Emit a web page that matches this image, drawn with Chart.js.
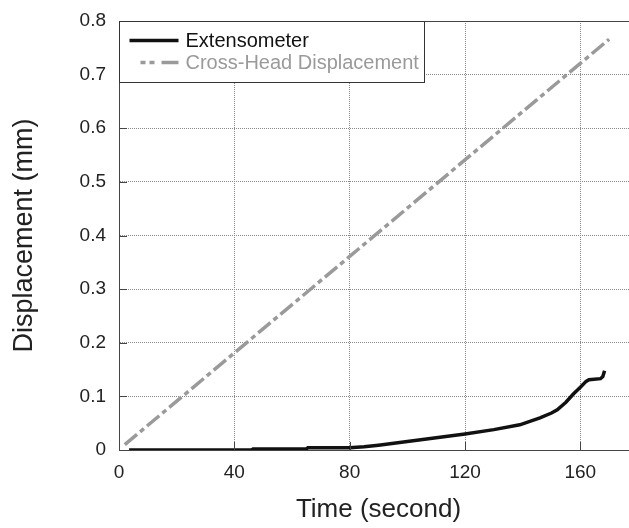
<!DOCTYPE html>
<html>
<head>
<meta charset="utf-8">
<title>Displacement vs Time</title>
<script src="https://cdn.jsdelivr.net/npm/chart.js@4"></script>
<style>
  html, body { margin: 0; padding: 0; background: #fff; overflow: hidden; }
  #wrap { width: 629px; height: 528px; overflow: hidden; }
</style>
</head>
<body>
<div id="wrap">
  <canvas id="chart" width="640" height="528"></canvas>
</div>
<script>
// Extensometer reading (mm) over time (s)
const extTime = [3.5, 46, 46.5, 65, 65.5, 80, 85, 90, 100, 110, 120, 130, 139, 146, 150, 152, 155, 157.5, 160, 162, 163, 167, 167.8, 168.4];
const extDisp = [0, 0, 0.002, 0.002, 0.004, 0.004, 0.006, 0.009, 0.016, 0.023, 0.030, 0.038, 0.047, 0.060, 0.069, 0.075, 0.089, 0.104, 0.117, 0.128, 0.131, 0.133, 0.137, 0.148];

// Cross-head displacement (mm) over time (s)
const crossTime = [2, 80, 170];
const crossDisp = [0.01, 0.361, 0.766];

const seriesLabels = ['Extensometer', 'Cross-Head Displacement'];
const xTicks = [0, 40, 80, 120, 160];
const yTicks = [0, 0.1, 0.2, 0.3, 0.4, 0.5, 0.6, 0.7, 0.8];

const FONT = "'Liberation Sans', Arial, sans-serif";
const CROSS_DASH = [16, 4, 5, 4];
const PLOT_TOP = 21;

const toPoints = (xs, ys) => xs.map((x, i) => ({ x: x, y: ys[i] }));

// top border, inward tick marks and the boxed legend
const frameAndLegend = {
  id: 'frameAndLegend',
  afterDatasetsDraw(chart) {
    const { ctx, chartArea, scales } = chart;
    ctx.save();

    // top edge of the plot
    ctx.strokeStyle = '#444';
    ctx.lineWidth = 1;
    ctx.setLineDash([]);
    ctx.beginPath();
    ctx.moveTo(chartArea.left, chartArea.top + 0.5);
    ctx.lineTo(chartArea.right, chartArea.top + 0.5);
    ctx.stroke();

    // short ticks pointing into the plot
    ctx.beginPath();
    yTicks.slice(1, -1).forEach(v => {
      const y = Math.round(scales.y.getPixelForValue(v)) + 0.5;
      ctx.moveTo(chartArea.left, y);
      ctx.lineTo(chartArea.left + 8, y);
    });
    xTicks.slice(1).forEach(v => {
      const x = Math.round(scales.x.getPixelForValue(v)) + 0.5;
      ctx.moveTo(x, chartArea.bottom);
      ctx.lineTo(x, chartArea.bottom - 8);
    });
    ctx.stroke();

    // legend box
    const bx = chartArea.left + 0.5, by = chartArea.top + 0.5;
    const bw = 305, bh = 61;
    ctx.fillStyle = '#fff';
    ctx.fillRect(bx, by, bw, bh);
    ctx.strokeStyle = '#333';
    ctx.strokeRect(bx, by, bw, bh);

    ctx.font = '20px ' + FONT;
    ctx.textBaseline = 'middle';
    ctx.textAlign = 'left';
    chart.data.datasets.forEach((ds, i) => {
      const rowY = by + 19 + i * 22;
      ctx.strokeStyle = ds.borderColor;
      ctx.lineWidth = ds.borderWidth;
      ctx.setLineDash(ds.borderDash ? [5, 4] : []);
      ctx.beginPath();
      ctx.moveTo(bx + (i === 1 ? 21 : 10), rowY);
      ctx.lineTo(bx + (i === 1 ? 38 : 59), rowY);
      if (i === 1) {
        // finish the sample with one long dash
        ctx.stroke();
        ctx.setLineDash([]);
        ctx.beginPath();
        ctx.moveTo(bx + 42, rowY);
        ctx.lineTo(bx + 59, rowY);
      }
      ctx.stroke();
      ctx.setLineDash([]);
      ctx.fillStyle = ds.legendColor;
      ctx.fillText(ds.label, bx + 66, rowY + 1);
    });

    ctx.restore();
  }
};

new Chart(document.getElementById('chart'), {
  type: 'scatter',
  data: {
    datasets: [
      {
        label: seriesLabels[0],
        data: toPoints(extTime, extDisp),
        showLine: true,
        borderColor: '#111',
        legendColor: '#111',
        borderWidth: 3.5,
        pointRadius: 0,
        tension: 0
      },
      {
        label: seriesLabels[1],
        data: toPoints(crossTime, crossDisp),
        showLine: true,
        borderColor: '#9a9a9a',
        legendColor: '#9a9a9a',
        borderWidth: 3.5,
        borderDash: CROSS_DASH,
        pointRadius: 0,
        tension: 0
      }
    ]
  },
  options: {
    responsive: false,
    animation: false,
    layout: { padding: { top: 0, right: 2, left: 0, bottom: 0 } },
    plugins: {
      legend: { display: false },
      tooltip: { enabled: false }
    },
    scales: {
      x: {
        type: 'linear',
        min: 0,
        max: 180,
        afterFit: s => { s.height = 78; },
        afterBuildTicks: s => { s.ticks = xTicks.map(v => ({ value: v })); },
        ticks: {
          padding: 11,
          color: '#222',
          font: { family: FONT, size: 19 },
          maxRotation: 0
        },
        grid: {
          drawTicks: false,
          color: ctx => (ctx.tick && ctx.tick.value > 0 && ctx.tick.value < 180) ? '#888' : 'rgba(0,0,0,0)',
          lineWidth: 1
        },
        border: { display: true, color: '#444', width: 1, dash: [1, 1] },
        title: {
          display: true,
          text: 'Time (second)',
          color: '#222',
          font: { family: FONT, size: 26 },
          padding: { top: 0, bottom: 3 }
        }
      },
      y: {
        min: 0,
        max: 0.8,
        afterFit: s => { s.width = 119; s.paddingTop = PLOT_TOP; },
        afterBuildTicks: s => { s.ticks = yTicks.map(v => ({ value: v })); },
        ticks: {
          padding: 13,
          color: '#222',
          font: { family: FONT, size: 19 },
          callback: v => (v === 0 ? '0' : v.toFixed(1))
        },
        grid: {
          drawTicks: false,
          color: ctx => (ctx.tick && ctx.tick.value > 0.001 && ctx.tick.value < 0.79) ? '#888' : 'rgba(0,0,0,0)',
          lineWidth: 1
        },
        border: { display: true, color: '#444', width: 1, dash: [1, 1] },
        title: {
          display: true,
          text: 'Displacement (mm)',
          color: '#222',
          font: { family: FONT, size: 27 },
          padding: { top: 8, bottom: 0 }
        }
      }
    }
  },
  plugins: [frameAndLegend]
});
</script>
</body>
</html>
